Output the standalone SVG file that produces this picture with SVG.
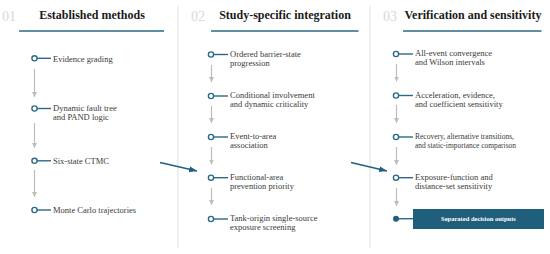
<svg xmlns="http://www.w3.org/2000/svg" width="550" height="254" viewBox="0 0 550 254">
<style>
.num{font-family:"Liberation Serif",serif;font-size:14px;fill:#d9d9d9}
.hd{font-family:"Liberation Serif",serif;font-size:12px;font-weight:bold;fill:#1a1a1a;text-anchor:middle}
.ul{stroke:#2b6a86;stroke-width:1.6}
.div{stroke:#ebebeb;stroke-width:1.5}
.t{font-family:"Liberation Serif",serif;font-size:8.5px;fill:#3a3a3a}
.dot{fill:#fff;stroke:#2b6a86;stroke-width:1.4}
.tick{stroke:#2b6a86;stroke-width:1.4}
.ga{stroke:#bdbdbd;stroke-width:1.2;marker-end:url(#gh)}
.ta{stroke:#22617d;stroke-width:1.6;marker-end:url(#th)}
.box{fill:#1f5f7b}
.bt{font-family:"Liberation Serif",serif;font-size:6.5px;font-weight:bold;fill:#fff;text-anchor:middle}
</style>
<defs>
<marker id="gh" markerUnits="userSpaceOnUse" markerWidth="6" markerHeight="6" refX="5" refY="2.5" orient="auto">
<path d="M0,0 L5,2.5 L0,5 z" fill="#bdbdbd"/>
</marker>
<marker id="th" markerUnits="userSpaceOnUse" markerWidth="9" markerHeight="8" refX="8" refY="3" orient="auto">
<path d="M0,0 L8,3 L0,6 z" fill="#22617d"/>
</marker>
</defs>
<rect width="550" height="254" fill="#fff"/>
<g id="dividers">
<line class="div" x1="178" y1="6" x2="178" y2="248"/>
<line class="div" x1="370" y1="6" x2="370" y2="248"/>
</g>
<g id="header1">
<text class="num" x="2" y="20.5">01</text>
<text class="hd" x="92" y="19">Established methods</text>
<line class="ul" x1="19" y1="31" x2="164" y2="31"/>
</g>
<g id="header2">
<text class="num" x="191" y="20.5">02</text>
<text class="hd" x="285" y="19">Study-specific integration</text>
<line class="ul" x1="211" y1="31" x2="358.5" y2="31"/>
</g>
<g id="header3">
<text class="num" x="383" y="20.5">03</text>
<text class="hd" x="473" y="19">Verification and sensitivity</text>
<line class="ul" x1="403" y1="31" x2="541.5" y2="31"/>
</g>
<g id="c1n1"><line class="tick" x1="37" y1="58.3" x2="51" y2="58.3"/><circle class="dot" cx="34.5" cy="58.3" r="2.6"/><text class="t" x="53" y="61.5">Evidence grading</text></g>
<g id="c1n2"><line class="tick" x1="37" y1="108.5" x2="51" y2="108.5"/><circle class="dot" cx="34.5" cy="108.5" r="2.6"/><text class="t" x="53" y="110.8">Dynamic fault tree</text><text class="t" x="53" y="119.6">and PAND logic</text></g>
<g id="c1n3"><line class="tick" x1="37" y1="160.8" x2="51" y2="160.8"/><circle class="dot" cx="34.5" cy="160.8" r="2.6"/><text class="t" x="53" y="164">Six-state CTMC</text></g>
<g id="c1n4"><line class="tick" x1="37" y1="210" x2="51" y2="210"/><circle class="dot" cx="34.5" cy="210" r="2.6"/><text class="t" x="53" y="213.2">Monte Carlo trajectories</text></g>
<g id="c2n1"><line class="tick" x1="213.5" y1="54.5" x2="228" y2="54.5"/><circle class="dot" cx="211" cy="54.5" r="2.6"/><text class="t" x="230" y="56.5">Ordered barrier-state</text><text class="t" x="230" y="65.5">progression</text></g>
<g id="c2n2"><line class="tick" x1="213.5" y1="96" x2="228" y2="96"/><circle class="dot" cx="211" cy="96" r="2.6"/><text class="t" x="230" y="98">Conditional involvement</text><text class="t" x="230" y="107">and dynamic criticality</text></g>
<g id="c2n3"><line class="tick" x1="213.5" y1="137" x2="228" y2="137"/><circle class="dot" cx="211" cy="137" r="2.6"/><text class="t" x="230" y="139">Event-to-area</text><text class="t" x="230" y="148">association</text></g>
<g id="c2n4"><line class="tick" x1="213.5" y1="177.7" x2="228" y2="177.7"/><circle class="dot" cx="211" cy="177.7" r="2.6"/><text class="t" x="230" y="179.7">Functional-area</text><text class="t" x="230" y="188.7">prevention priority</text></g>
<g id="c2n5"><line class="tick" x1="213.5" y1="219" x2="228" y2="219"/><circle class="dot" cx="211" cy="219" r="2.6"/><text class="t" x="230" y="221">Tank-origin single-source</text><text class="t" x="230" y="230">exposure screening</text></g>
<g id="c3n1"><line class="tick" x1="398.5" y1="54" x2="413" y2="54"/><circle class="dot" cx="396" cy="54" r="2.6"/><text class="t" x="415" y="56">All-event convergence</text><text class="t" x="415" y="65">and Wilson intervals</text></g>
<g id="c3n2"><line class="tick" x1="398.5" y1="95.5" x2="413" y2="95.5"/><circle class="dot" cx="396" cy="95.5" r="2.6"/><text class="t" x="415" y="97.5">Acceleration, evidence,</text><text class="t" x="415" y="106.5">and coefficient sensitivity</text></g>
<g id="c3n3"><line class="tick" x1="398.5" y1="137" x2="413" y2="137"/><circle class="dot" cx="396" cy="137" r="2.6"/><text class="t" x="415" y="139" textLength="99" lengthAdjust="spacingAndGlyphs">Recovery, alternative transitions,</text><text class="t" x="415" y="148" textLength="101" lengthAdjust="spacingAndGlyphs">and static-importance comparison</text></g>
<g id="c3n4"><line class="tick" x1="398.5" y1="177.7" x2="413" y2="177.7"/><circle class="dot" cx="396" cy="177.7" r="2.6"/><text class="t" x="415" y="179.7">Exposure-function and</text><text class="t" x="415" y="188.7">distance-set sensitivity</text></g>
<g id="c3n5"><line class="tick" x1="396" y1="218.7" x2="413" y2="218.7"/><circle cx="396" cy="218.7" r="3" fill="#1f5f7b"/><rect class="box" x="413" y="209" width="131" height="20"/><text class="bt" x="478.5" y="221">Separated decision outputs</text></g>
<g id="connectors">
<line class="ga" x1="34.5" y1="69" x2="34.5" y2="97"/>
<line class="ga" x1="34.5" y1="123" x2="34.5" y2="148"/>
<line class="ga" x1="34.5" y1="170" x2="34.5" y2="197"/>
<line class="ga" x1="211.5" y1="65" x2="211.5" y2="82"/>
<line class="ga" x1="211.5" y1="106" x2="211.5" y2="123"/>
<line class="ga" x1="211.5" y1="147" x2="211.5" y2="164.5"/>
<line class="ga" x1="211.5" y1="188" x2="211.5" y2="205"/>
<line class="ga" x1="396.5" y1="64" x2="396.5" y2="81.5"/>
<line class="ga" x1="396.5" y1="105" x2="396.5" y2="123"/>
<line class="ga" x1="396.5" y1="147" x2="396.5" y2="165"/>
<line class="ga" x1="396.5" y1="188" x2="396.5" y2="206"/>
<line class="ta" x1="160" y1="162.5" x2="197" y2="171"/>
<line class="ta" x1="351" y1="162.5" x2="387" y2="171"/>
</g>
</svg>
